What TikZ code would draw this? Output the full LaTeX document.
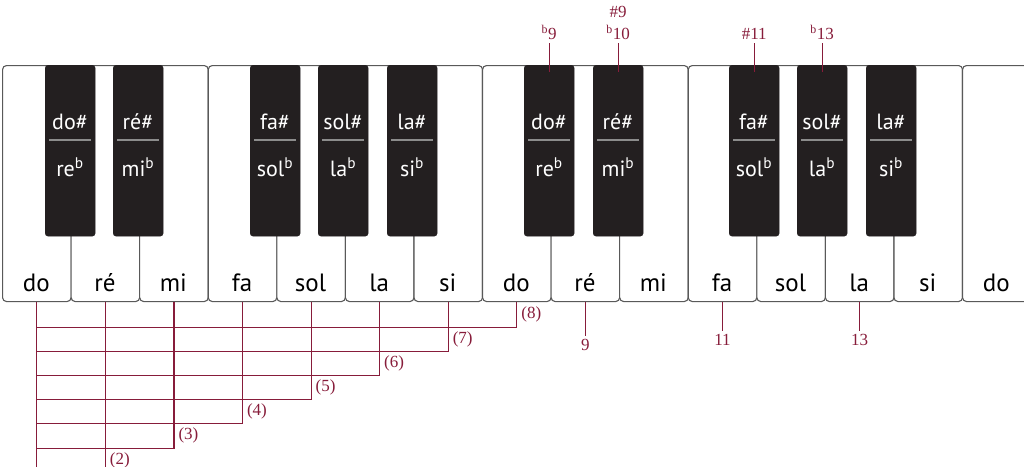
\documentclass[tikz,border=0pt]{standalone}
\usepackage{fontspec}
\newfontfamily\keyfont{PT Sans}
\newfontfamily\numfont{Liberation Serif}
\usetikzlibrary{positioning,calc}
\definecolor{wine}{RGB}{135,28,58}
\definecolor{keyblack}{RGB}{35,31,32}
\tikzset{
  whitekey/.style={draw=black!65,line width=1.1pt,fill=white,rounded corners=4pt,
    minimum width=68.57pt,minimum height=236pt,inner sep=0pt,anchor=north west},
  blackkey/.style={draw=keyblack,fill=keyblack,rounded corners=3pt,
    minimum width=50pt,minimum height=171pt,inner sep=0pt,anchor=north west},
  whitename/.style={font=\keyfont\fontsize{25}{27}\selectfont},
  blackname/.style={text=white,font=\keyfont\fontsize{22}{24}\selectfont},
  wineline/.style={draw=wine,line width=1.1pt},
  degree/.style={text=wine,font=\numfont\fontsize{17}{20}\selectfont,align=center},
}
\begin{document}
\begin{tikzpicture}[x=1pt,y=1pt]
\useasboundingbox (0,0) rectangle (1024,-466);

% white keys
\foreach \n/\name in {1/do,2/ré,3/mi,4/fa,5/sol,6/la,7/si,8/do,
                      9/ré,10/mi,11/fa,12/sol,13/la,14/si,15/do} {
  \node[whitekey] (w\n) at ({2+68.57*(\n-1)},-65) {};
  \node[whitename] (wn\n) at ({36.3+68.57*(\n-1)},-283) {\name};
}

% black keys
\foreach \n/\x/\s/\f in {1/45/do/re,2/113/ré/mi,3/250/fa/sol,4/318/sol/la,5/387/la/si,
                         6/524/do/re,7/593/ré/mi,8/729/fa/sol,9/797/sol/la,10/866/la/si} {
  \node[blackkey] (b\n) at (\x,-65) {};
  \node[blackname] (bs\n) at (\x+25,-122) {\s\#};
  \draw[black!45,line width=1.6pt] (\x+4,-140) -- (\x+46,-140);
  \node[blackname] (bf\n) at (\x+25,-167) {\f\textsuperscript{b}};
}

% intervals from do
\path (w1.south) ++(0,-190) coordinate (cbot);
\draw[wineline] (w1.south) -- (cbot);
\foreach \n in {2,...,8} {
  \path (w\n.south) ++(0,{-25-24.2*(8-\n)}) coordinate (c\n);
  \draw[wineline] (w\n.south) -- (c\n) -- (c\n -| w1.south);
  \node[degree,above right=1pt and 1pt of c\n] (i\n) {(\n)};
}

% tensions above
\node[degree,above=22pt of b6.north] (t6) {\textsuperscript{b}9};
\node[degree,above=22pt of b7.north] (t7) {\#9\\[2pt]\textsuperscript{b}10};
\node[degree,above=22pt of b8.north] (t8) {\#11};
\node[degree,above=22pt of b9.north] (t9) {\textsuperscript{b}13};
\foreach \n in {6,...,9} {
  \path (b\n.north) ++(0,-7) coordinate (e\n);
  \draw[wineline] (t\n.south) -- (e\n);
}

% tensions below
\node[degree,below=34pt of w9.south] (d9) {9};
\node[degree,below=29pt of w11.south] (d11) {11};
\node[degree,below=29pt of w13.south] (d13) {13};
\foreach \n in {9,11,13}
  \draw[wineline] (w\n.south) -- (d\n.north);
\end{tikzpicture}
\end{document}
